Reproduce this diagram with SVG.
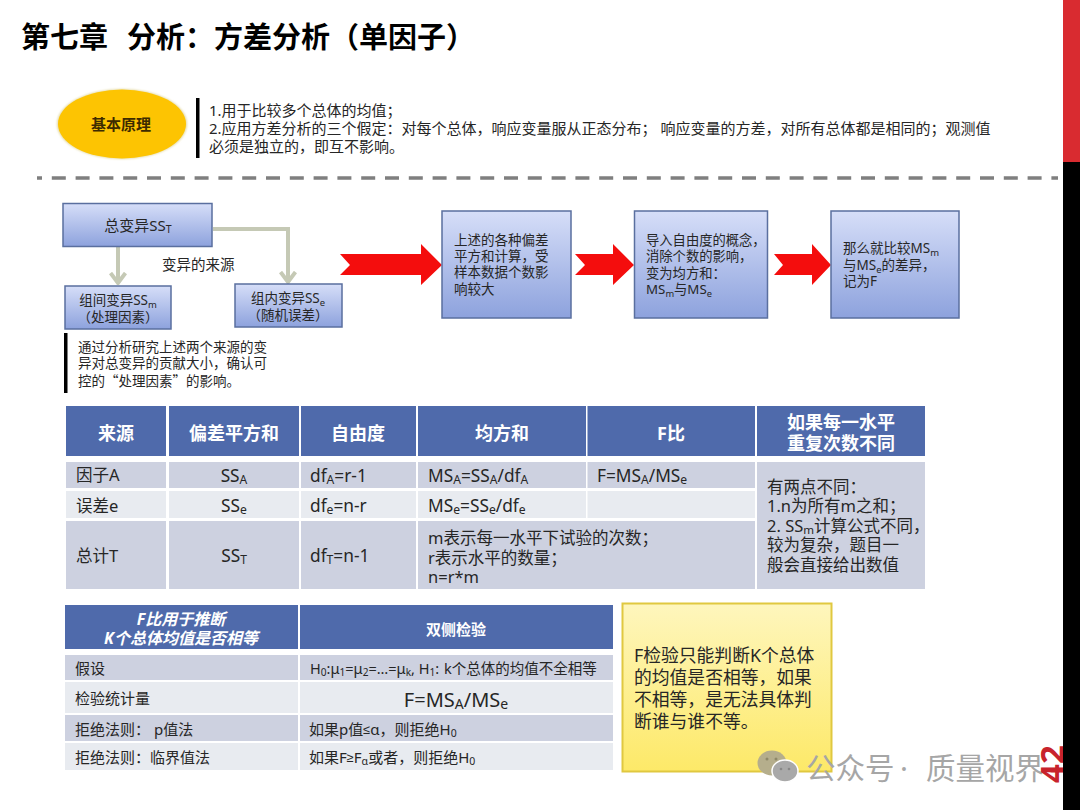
<svg xmlns="http://www.w3.org/2000/svg" width="1080" height="810" viewBox="0 0 1080 810">
<style>
text{font-family:"Noto Sans","Noto Sans CJK SC",sans-serif;fill:#262626;dominant-baseline:central}
.m{text-anchor:middle}
.h{font-weight:700;fill:#fff;font-size:18px}
.c{font-size:16.5px}
.f{font-size:17.3px}
.b13{font-size:13.5px}
.t2{font-size:15px}
.s{font-size:70%;baseline-shift:-4px}
.n{font-family:"Liberation Sans",sans-serif;font-size:85%}
.box{fill:url(#blue);stroke:#5a6f9f;stroke-width:1.5}
.hd{fill:#4f6aab}
.d1{fill:#cdd1e0}
.d2{fill:#e8ebf0}
.arrow{fill:#f40d0d}
.conn{fill:none;stroke:#c5c9b5;stroke-width:4}
</style>
<defs>
<linearGradient id="blue" x1="0" y1="0" x2="0" y2="1"><stop offset="0" stop-color="#d6def8"/><stop offset="1" stop-color="#8da2dd"/></linearGradient>
<linearGradient id="yel" x1="0" y1="0" x2="0" y2="1"><stop offset="0" stop-color="#fef6bd"/><stop offset="1" stop-color="#fde968"/></linearGradient>
<filter id="soft" x="-10%" y="-10%" width="120%" height="120%"><feGaussianBlur stdDeviation="1.2"/></filter>
<marker id="chev" viewBox="0 0 13 18" refX="11" refY="9" markerWidth="13" markerHeight="18" markerUnits="userSpaceOnUse" orient="auto"><path d="M1 1.500 L11 9 L1 16.500" fill="none" stroke="#c5c9b5" stroke-width="4"/></marker>
</defs>
<rect width="1080" height="810" fill="#fff"/>

<text id="title" x="21" y="36" font-size="29" font-weight="700" style="fill:#000">第七章<tspan x="127">分析：方差分析（单因子）</tspan></text>

<g id="principle">
<ellipse cx="122" cy="124" rx="65" ry="35" fill="#e3d9a0" filter="url(#soft)"/>
<ellipse cx="122" cy="124" rx="64" ry="34.5" fill="#fdc402"/>
<text class="m" x="121" y="124" font-size="15" font-weight="700" style="fill:#3d2b00">基本原理</text>
</g>
<g id="principle-text">
<rect x="196" y="98" width="3.5" height="60" fill="#000"/>
<text x="209" y="110" font-size="15">1.用于比较多个总体的均值；</text>
<text x="209" y="128" font-size="15" xml:space="preserve">2.应用方差分析的三个假定：对每个总体，响应变量服从正态分布； 响应变量的方差，对所有总体都是相同的；观测值</text>
<text x="209" y="146" font-size="15">必须是独立的，即互不影响。</text>
</g>
<line id="divider" x1="37" y1="178" x2="1058" y2="178" stroke="#7f7f7f" stroke-width="3.5" stroke-dasharray="14 9.8" stroke-dashoffset="9"/>

<g id="connectors">
<path class="conn" d="M118 247V283" marker-end="url(#chev)"/>
<path class="conn" d="M213 229H288V282" marker-end="url(#chev)"/>
<polygon class="arrow" points="340,254 421,254 421,244 442,265 421,285 421,275 340,275 350,265"/>
<polygon class="arrow" points="575,254 613,254 613,244 634,265 613,285 613,275 575,275 585,265"/>
<polygon class="arrow" points="774,254 812,254 812,244 831,265 812,285 812,275 774,275 783,265"/>
</g>

<g id="node-total"><rect class="box" x="63" y="203.500" width="149" height="43"/><text class="m" x="138" y="225" font-size="15">总变异SS<tspan class="s">T</tspan></text></g>
<g id="node-between"><rect class="box" x="65" y="286" width="106" height="43"/><text class="m" x="118" y="300" font-size="13.500">组间变异SS<tspan class="s">m</tspan></text><text class="m" x="118" y="317" font-size="13.500">（处理因素）</text></g>
<g id="node-within"><rect class="box" x="235" y="284" width="107" height="43"/><text class="m" x="288" y="298" font-size="13.500">组内变异SS<tspan class="s">e</tspan></text><text class="m" x="288" y="315" font-size="13.500">（随机误差）</text></g>
<text id="label-source" x="162" y="264" font-size="14.5">变异的来源</text>
<g id="note">
<rect x="64" y="333" width="3.5" height="60" fill="#000"/>
<text class="b13" x="78" y="347">通过分析研究上述两个来源的变</text>
<text class="b13" x="78" y="363">异对总变异的贡献大小，确认可</text>
<text class="b13" x="78" y="380" style="font-family:'Noto Sans CJK SC',sans-serif">控的“处理因素”的影响。</text>
</g>
<g id="node-step1"><rect class="box" x="442" y="211" width="129" height="107"/>
<text class="b13" x="454" y="240">上述的各种偏差</text><text class="b13" x="454" y="256">平方和计算，受</text><text class="b13" x="454" y="272">样本数据个数影</text><text class="b13" x="454" y="289">响较大</text></g>
<g id="node-step2"><rect class="box" x="634.500" y="211" width="133" height="107"/>
<text font-size="13.300" x="646" y="240">导入自由度的概念，</text><text font-size="13.300" x="646" y="256">消除个数的影响，</text><text font-size="13.300" x="646" y="273">变为均方和：</text><text font-size="13.300" x="646" y="289">MS<tspan class="s">m</tspan>与MS<tspan class="s">e</tspan></text></g>
<g id="node-step3"><rect class="box" x="831" y="211" width="128" height="107"/>
<text font-size="13.500" x="843" y="248">那么就比较MS<tspan class="s">m</tspan></text><text font-size="13.500" x="843" y="265">与MS<tspan class="s">e</tspan>的差异，</text><text font-size="13.500" x="843" y="281">记为F</text></g>

<g id="table-anova">
<rect class="hd" x="66" y="406" width="100" height="50"/><rect class="hd" x="169" y="406" width="130" height="50"/><rect class="hd" x="301" y="406" width="115" height="50"/><rect class="hd" x="418" y="406" width="168" height="50"/><rect class="hd" x="587.500" y="406" width="167.500" height="50"/><rect class="hd" x="757" y="406" width="168" height="50"/>
<text class="h m" x="116" y="433">来源</text><text class="h m" x="234" y="433">偏差平方和</text><text class="h m" x="358" y="433">自由度</text><text class="h m" x="502" y="433">均方和</text><text class="h m" x="671" y="433">F比</text>
<text class="h m" x="841" y="422">如果每一水平</text><text class="h m" x="841" y="443">重复次数不同</text>
<rect class="d1" x="66" y="462" width="100" height="26"/><rect class="d1" x="169" y="462" width="130" height="26"/><rect class="d1" x="301" y="462" width="115" height="26"/><rect class="d1" x="418" y="462" width="168" height="26"/><rect class="d1" x="587.500" y="462" width="167.500" height="26"/>
<rect class="d2" x="66" y="491" width="100" height="27"/><rect class="d2" x="169" y="491" width="130" height="27"/><rect class="d2" x="301" y="491" width="115" height="27"/><rect class="d2" x="418" y="491" width="168" height="27"/><rect class="d2" x="587.500" y="491" width="167.500" height="27"/>
<rect class="d1" x="66" y="521" width="100" height="68"/><rect class="d1" x="169" y="521" width="130" height="68"/><rect class="d1" x="301" y="521" width="115" height="68"/><rect class="d1" x="418" y="521" width="337" height="68"/>
<rect class="d1" x="757" y="462" width="168" height="127"/>
<text class="c" x="76" y="474">因子A</text><text class="c" x="76" y="505">误差e</text><text class="c" x="76" y="555">总计T</text>
<text class="f m" x="234" y="475">SS<tspan class="s">A</tspan></text><text class="f m" x="234" y="505">SS<tspan class="s">e</tspan></text><text class="f m" x="234" y="555">SS<tspan class="s">T</tspan></text>
<text class="f" x="310" y="475">df<tspan class="s">A</tspan>=r-1</text><text class="f" x="310" y="505">df<tspan class="s">e</tspan>=n-r</text><text class="f" x="310" y="555">df<tspan class="s">T</tspan>=n-1</text>
<text class="f" x="428" y="475">MS<tspan class="s">A</tspan>=SS<tspan class="s">A</tspan>/df<tspan class="s">A</tspan></text><text class="f" x="428" y="505">MS<tspan class="s">e</tspan>=SS<tspan class="s">e</tspan>/df<tspan class="s">e</tspan></text>
<text class="f" x="597" y="475">F=MS<tspan class="s">A</tspan>/MS<tspan class="s">e</tspan></text>
<text class="c" x="428" y="537">m表示每一水平下试验的次数；</text><text class="c" x="428" y="557">r表示水平的数量；</text><text class="c" x="428" y="576">n=r*m</text>
<text class="c" x="767" y="486">有两点不同：</text><text class="c" x="767" y="505">1.n为所有m之和；</text><text class="c" x="767" y="525">2. SS<tspan class="s">m</tspan>计算公式不同，</text><text class="c" x="767" y="544">较为复杂，题目一</text><text class="c" x="767" y="564">般会直接给出数值</text>
</g>

<g id="table-test">
<rect class="hd" x="65" y="605" width="233" height="44"/><rect class="hd" x="300" y="605" width="313" height="44"/>
<text class="m" x="181" y="619" font-size="16" font-weight="700" font-style="italic" style="fill:#fff">F比用于推断</text>
<text class="m" x="181" y="638" font-size="16" font-weight="700" font-style="italic" style="fill:#fff">K个总体均值是否相等</text>
<text class="m" x="456" y="629" font-size="15" font-weight="700" style="fill:#fff">双侧检验</text>
<rect class="d1" x="65" y="655" width="233" height="25"/><rect class="d1" x="300" y="655" width="313" height="25"/>
<rect class="d2" x="65" y="682" width="233" height="31"/><rect class="d2" x="300" y="682" width="313" height="31"/>
<rect class="d1" x="65" y="715" width="233" height="26"/><rect class="d1" x="300" y="715" width="313" height="26"/>
<rect class="d2" x="65" y="743" width="233" height="27"/><rect class="d2" x="300" y="743" width="313" height="27"/>
<text class="t2" x="75" y="668">假设</text><text class="t2" x="75" y="698">检验统计量</text><text class="t2" x="75" y="729" xml:space="preserve">拒绝法则： p值法</text><text class="t2" x="75" y="757">拒绝法则：临界值法</text>
<text x="310" y="668" font-size="14.500">H<tspan class="s">0</tspan>:μ<tspan class="s">1</tspan>=μ<tspan class="s">2</tspan>=…=μ<tspan class="s">k</tspan>, H<tspan class="s">1</tspan>:<tspan x="444">k个总体的均值不全相等</tspan></text>
<text class="m" x="456" y="699" font-size="20">F=MS<tspan class="s">A</tspan>/MS<tspan class="s">e</tspan></text>
<text class="t2" x="309" y="729">如果p值<tspan class="n">≤</tspan>α，则拒绝H<tspan class="s">0</tspan></text>
<text class="t2" x="309" y="757">如果F<tspan class="n">≥</tspan>F<tspan class="s">α</tspan>或者，则拒绝H<tspan class="s">0</tspan></text>
</g>

<g id="node-callout"><rect x="622.500" y="603.500" width="209" height="168" fill="url(#yel)" stroke="#e0c840" stroke-width="2"/>
<text font-size="17.800" x="634" y="655">F检验只能判断K个总体</text><text font-size="17.800" x="634" y="677">的均值是否相等，如果</text><text font-size="17.800" x="634" y="699">不相等，是无法具体判</text><text font-size="17.800" x="634" y="721">断谁与谁不等。</text></g>

<g id="watermark">
<ellipse cx="772" cy="763" rx="14.500" ry="12.500" fill="#b5ae8c"/>
<ellipse cx="785" cy="771" rx="13" ry="11" fill="#a9a9a9" stroke="#fff" stroke-width="1.500"/>
<circle cx="767" cy="759" r="1.500" fill="#8e8868"/><circle cx="776" cy="759" r="1.500" fill="#8e8868"/><circle cx="781" cy="769" r="1.300" fill="#888"/><circle cx="789" cy="769" r="1.300" fill="#888"/>
<text y="767" font-size="29.500" style="fill:#a6a6a6"><tspan x="806">公众号</tspan><tspan x="900">·</tspan><tspan x="926">质量视界</tspan></text>
</g>
<text id="page-number" transform="translate(1051 764) rotate(-90)" class="m" font-size="33" font-weight="700" style="fill:#c8232c">42</text>
<rect id="side-red" x="1063" y="0" width="17" height="162" fill="#d92b30"/>
<rect id="side-black" x="1063" y="162" width="17" height="648" fill="#000"/>
</svg>
